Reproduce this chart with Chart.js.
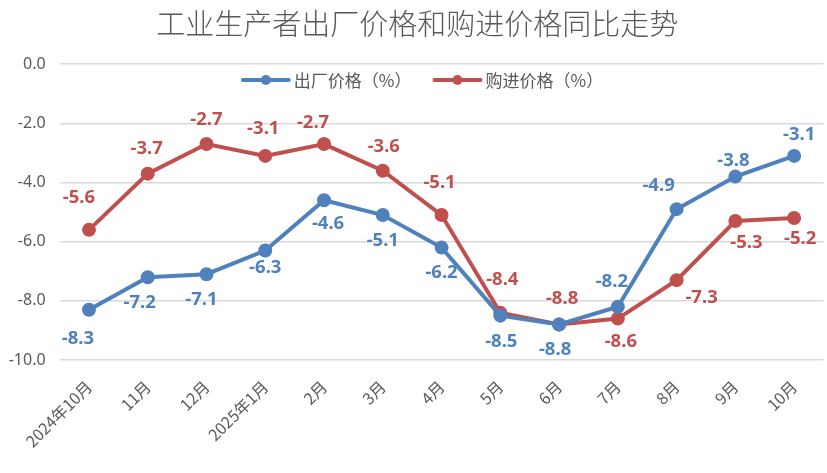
<!DOCTYPE html>
<html>
<head>
<meta charset="utf-8">
<script src="https://cdn.jsdelivr.net/npm/chart.js@4"></script>
<style>
  html, body { margin: 0; padding: 0; background: #fff; }
  #wrap { width: 827px; height: 473px; }
</style>
</head>
<body>
<div id="wrap"><canvas id="ppi-chart"></canvas></div>
<script>
// categories and series
const titleText = '工业生产者出厂价格和购进价格同比走势';
const months = ['2024年10月', '11月', '12月', '2025年1月', '2月', '3月', '4月', '5月', '6月', '7月', '8月', '9月', '10月'];
const factoryPrice = [-8.3, -7.2, -7.1, -6.3, -4.6, -5.1, -6.2, -8.5, -8.8, -8.2, -4.9, -3.8, -3.1];
const purchasePrice = [-5.6, -3.7, -2.7, -3.1, -2.7, -3.6, -5.1, -8.4, -8.8, -8.6, -7.3, -5.3, -5.2];
const yTicks = [0, -2, -4, -6, -8, -10];

// where each value label sits relative to its point (dx, dy in px)
const factoryLabelOffsets = [[-11, 29], [-8, 26], [-5, 26], [0, 17], [4, 23], [0, 26], [0, 25], [1, 26], [-4, 25], [-6, -25], [-18, -23], [-2, -16], [5, -21]];
const purchaseLabelOffsets = [[-10, -32], [-1, -25], [0, -24], [-2, -27], [-11, -21], [1, -24], [-2, -32], [2, -33], [3, -26], [3, 23], [25, 18], [11, 22], [6, 21]];

const BLUE = '#4F81BD';
const RED = '#C0504D';
const TEXT = '#595959';

// title, drawn by hand so it can sit a little right of centre like the original
const titlePlugin = {
    id: 'titlePlugin',
    afterDraw(chart) {
        const ctx = chart.ctx;
        ctx.save();
        ctx.font = '300 29px "Noto Sans CJK SC", sans-serif';
        ctx.fillStyle = TEXT;
        ctx.textAlign = 'center';
        ctx.textBaseline = 'middle';
        ctx.fillText(titleText, 417.3, 24);
        ctx.restore();
    }
};

// value labels drawn next to each point
const valueLabels = {
    id: 'valueLabels',
    afterDatasetsDraw(chart) {
        const ctx = chart.ctx;
        ctx.save();
        ctx.font = 'bold 18.5px "Noto Sans", sans-serif';
        ctx.textAlign = 'center';
        ctx.textBaseline = 'middle';
        chart.data.datasets.forEach((ds, i) => {
            const meta = chart.getDatasetMeta(i);
            meta.data.forEach((pt, j) => {
                const off = ds.labelOffsets[j];
                ctx.fillStyle = ds.borderColor;
                ctx.fillText(ds.data[j].toFixed(1), pt.x + off[0], pt.y + off[1]);
            });
        });
        ctx.restore();
    }
};

// legend drawn inside the plot area, like the original
const innerLegend = {
    id: 'innerLegend',
    afterDraw(chart) {
        const ctx = chart.ctx;
        ctx.save();
        ctx.font = '17px "Noto Sans CJK SC", sans-serif';
        ctx.textBaseline = 'middle';
        const lineLen = 46, gap = 5, itemGap = 23;
        const items = chart.data.datasets.map(ds => ({ ds, w: ctx.measureText(ds.label).width }));
        const total = items.reduce((s, it) => s + lineLen + gap + it.w, 0) + itemGap * (items.length - 1);
        let x = 423 - total / 2;
        const y = 80;
        items.forEach(it => {
            ctx.strokeStyle = it.ds.borderColor;
            ctx.lineWidth = 4;
            ctx.lineCap = 'round';
            ctx.beginPath();
            ctx.moveTo(x, y);
            ctx.lineTo(x + lineLen, y);
            ctx.stroke();
            ctx.fillStyle = it.ds.borderColor;
            ctx.beginPath();
            ctx.arc(x + lineLen / 2, y, 5, 0, Math.PI * 2);
            ctx.fill();
            ctx.fillStyle = TEXT;
            ctx.fillText(it.ds.label, x + lineLen + gap, y + 1);
            x += lineLen + gap + it.w + itemGap;
        });
        ctx.restore();
    }
};

const ctx = document.getElementById('ppi-chart').getContext('2d');
new Chart(ctx, {
    type: 'line',
    data: {
        labels: months,
        datasets: [{
            label: '出厂价格（%）',
            data: factoryPrice,
            labelOffsets: factoryLabelOffsets,
            borderColor: BLUE,
            backgroundColor: BLUE,
            borderWidth: 4,
            pointRadius: 5,
            pointHoverRadius: 5,
            tension: 0
        }, {
            label: '购进价格（%）',
            data: purchasePrice,
            labelOffsets: purchaseLabelOffsets,
            borderColor: RED,
            backgroundColor: RED,
            borderWidth: 4,
            pointRadius: 5,
            pointHoverRadius: 5,
            tension: 0
        }]
    },
    options: {
        responsive: true,
        maintainAspectRatio: false,
        animation: false,
        layout: { autoPadding: false, padding: { left: 0, right: 3.5, top: 64.2, bottom: 0 } },
        plugins: {
            legend: { display: false },
            tooltip: { enabled: false },
            title: { display: false }
        },
        scales: {
            x: {
                offset: true,
                grid: { display: false },
                border: { display: false },
                ticks: {
                    color: TEXT,
                    font: { family: '"Noto Sans CJK SC", sans-serif', size: 16 },
                    maxRotation: 45,
                    minRotation: 45,
                    autoSkip: false,
                    padding: 9
                },
                afterFit(scale) {
                    scale.height = 113;
                    // rotated labels should not push the plot in from the sides
                    scale.paddingLeft = 0;
                    scale.paddingRight = 0;
                }
            },
            y: {
                min: -10,
                max: 0,
                afterBuildTicks(scale) { scale.ticks = yTicks.map(v => ({ value: v })); },
                grid: { color: '#D9D9D9', lineWidth: 1.5, drawTicks: false },
                border: { display: false },
                ticks: {
                    color: TEXT,
                    font: { family: '"Noto Sans", sans-serif', size: 16 },
                    padding: 14,
                    callback: v => v.toFixed(1)
                },
                afterFit(scale) { scale.width = 59.6; }
            }
        }
    },
    plugins: [valueLabels, innerLegend, titlePlugin]
});
</script>
</body>
</html>
